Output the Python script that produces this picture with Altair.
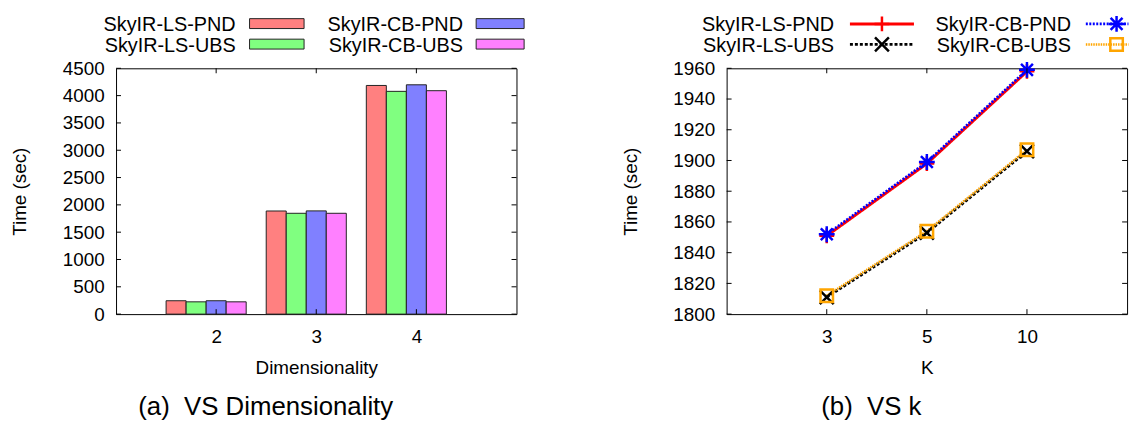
import altair as alt
import pandas as pd

FONT = "Liberation Sans"

# ---------------- data ----------------
series = ["SkyIR-LS-PND", "SkyIR-LS-UBS", "SkyIR-CB-PND", "SkyIR-CB-UBS"]

dims = [2, 3, 4]
ls_pnd_dim = [245, 1888, 4186]
ls_ubs_dim = [225, 1846, 4078]
cb_pnd_dim = [245, 1890, 4198]
cb_ubs_dim = [225, 1846, 4090]

ks = ["3", "5", "10"]
ls_pnd_k = [1851, 1898, 1958]
ls_ubs_k = [1811, 1853, 1906]
cb_pnd_k = [1852, 1899, 1959]
cb_ubs_k = [1812, 1854, 1907]

dim_ticks = list(range(0, 4501, 500))
k_ticks = list(range(1800, 1961, 20))

bar_colors = ["#ff8080", "#80ff80", "#8080ff", "#ff80ff"]
line_colors = ["#ff0000", "#000000", "#0000ff", "#ffa500"]

# ---------------- tables ----------------
dim_vals = [ls_pnd_dim, ls_ubs_dim, cb_pnd_dim, cb_ubs_dim]
bar_df = pd.DataFrame(
    [{"dim": d, "series": s, "idx": i, "time": v[j]}
     for i, (s, v) in enumerate(zip(series, dim_vals))
     for j, d in enumerate(dims)]
)
k_vals = [ls_pnd_k, ls_ubs_k, cb_pnd_k, cb_ubs_k]
line_df = pd.DataFrame(
    [{"k": k, "series": s, "time": v[j]}
     for s, v in zip(series, k_vals)
     for j, k in enumerate(ks)]
)
leg_df = pd.DataFrame(
    [{"series": s, "col": i // 2, "row": i % 2} for i, s in enumerate(series)]
)
ytick_l = pd.DataFrame({"v": dim_ticks})
xtick_l = pd.DataFrame({"d": dims})
ytick_r = pd.DataFrame({"v": k_ticks})
xtick_r = pd.DataFrame({"k": ks})

W, H = 404, 248
TL = 5  # inner tick length


# ---------------- marker paths ----------------
def plus(cx, cy, r):
    return f"M{cx-r},{cy}L{cx+r},{cy}M{cx},{cy-r}L{cx},{cy+r}"


def xmark(cx, cy, r):
    return f"M{cx-r},{cy-r}L{cx+r},{cy+r}M{cx-r},{cy+r}L{cx+r},{cy-r}"


def star(cx, cy, r):
    d = r * 0.75
    return plus(cx, cy, r) + f"M{cx-d},{cy-d}L{cx+d},{cy+d}M{cx-d},{cy+d}L{cx+d},{cy-d}"


def square(cx, cy, r):
    return f"M{cx-r},{cy-r}L{cx+r},{cy-r}L{cx+r},{cy+r}L{cx-r},{cy+r}Z"


def rect(x0, x1, y0, y1):
    return f"M{x0},{y0}L{x1},{y0}L{x1},{y1}L{x0},{y1}Z"


bar_color_scale = alt.Scale(domain=series, range=bar_colors)
line_color_scale = alt.Scale(domain=series, range=line_colors)
dash_scale = alt.Scale(domain=series, range=[[1, 0], [3, 2], [2, 1.5], [1.5, 1]])
width_scale = alt.Scale(domain=series, range=[3, 2.5, 2.5, 1.5])

# ---------------- left panel ----------------
xs_l = alt.Scale(domain=[1, 5], nice=False, zero=False)
ys_l = alt.Scale(domain=[0, 4500], nice=False)
xax_l = alt.Axis(values=dims, format="d", title="Dimensionality",
                 labelPadding=14, titlePadding=12, labelOverlap=False)
yax_l = alt.Axis(values=dim_ticks, format="d", title="Time (sec)",
                 labelPadding=12, titlePadding=33, labelOverlap=False)

bars = alt.Chart(bar_df).transform_calculate(
    x0="datum.dim - 0.5 + 0.2 * datum.idx",
    x1="datum.dim - 0.3 + 0.2 * datum.idx",
).mark_bar(stroke="#222222", strokeWidth=1, opacity=1).encode(
    x=alt.X("x0:Q", scale=xs_l, axis=xax_l),
    x2="x1:Q",
    y=alt.Y("time:Q", scale=ys_l, axis=yax_l),
    y2=alt.datum(0),
    color=alt.Color("series:N", scale=bar_color_scale, legend=None),
)

tl_left = alt.Chart(ytick_l).mark_rule(color="black").encode(
    y=alt.Y("v:Q", scale=ys_l, axis=yax_l), x=alt.value(0), x2=alt.value(TL))
tl_right = alt.Chart(ytick_l).mark_rule(color="black").encode(
    y=alt.Y("v:Q", scale=ys_l, axis=yax_l), x=alt.value(W - TL), x2=alt.value(W))
tl_top = alt.Chart(xtick_l).mark_rule(color="black").encode(
    x=alt.X("d:Q", scale=xs_l, axis=xax_l), y=alt.value(0), y2=alt.value(TL))
tl_bot = alt.Chart(xtick_l).mark_rule(color="black").encode(
    x=alt.X("d:Q", scale=xs_l, axis=xax_l), y=alt.value(H - TL), y2=alt.value(H))

left_main = alt.layer(bars, tl_left, tl_right, tl_top, tl_bot)

leg_x_l = alt.X("col:O", scale=alt.Scale(type="point", domain=[0, 1], range=[120.7, 350], padding=0), axis=None)
leg_y = alt.Y("row:O", scale=alt.Scale(type="point", domain=[0, 1], range=[-43.6, -22.9], padding=0), axis=None)

leg_text_l = alt.Chart(leg_df).mark_text(
    align="right", baseline="middle", fontSize=20, font=FONT, color="black"
).encode(x=leg_x_l, y=leg_y, text="series:N")

sw0 = rect(14, 69, -6.5, 3.5)
sw1 = rect(13.3, 61.7, -6.5, 3.5)
leg_sw_l = alt.Chart(leg_df).mark_point(
    filled=True, size=4, opacity=1, stroke="#222222", strokeWidth=1
).encode(
    x=leg_x_l, y=leg_y,
    color=alt.Color("series:N", scale=bar_color_scale, legend=None),
    shape=alt.Shape("series:N", scale=alt.Scale(domain=series, range=[sw0, sw0, sw1, sw1]), legend=None),
)

left = alt.layer(left_main, leg_text_l, leg_sw_l).resolve_scale(
    x="independent", y="independent", shape="independent"
).properties(
    width=W, height=H,
    title=alt.TitleParams(
        text="(a)\u00a0 VS Dimensionality", orient="bottom", anchor="middle",
        frame="group", fontSize=26, font=FONT, fontWeight="normal",
        color="black", dx=-51, offset=17,
    ),
)

# ---------------- right panel ----------------
xs_r = alt.Scale(type="point", domain=ks, padding=1)
ys_r = alt.Scale(domain=[1800, 1960], nice=False, zero=False)
xax_r = alt.Axis(title="K", labelAngle=0, labelPadding=14, titlePadding=12, labelOverlap=False)
yax_r = alt.Axis(values=k_ticks, format="d", title="Time (sec)",
                 labelPadding=12, titlePadding=33, labelOverlap=False)

lines = alt.Chart(line_df).mark_line().encode(
    x=alt.X("k:O", scale=xs_r, sort=ks, axis=xax_r),
    y=alt.Y("time:Q", scale=ys_r, axis=yax_r),
    color=alt.Color("series:N", scale=line_color_scale, legend=None),
    strokeDash=alt.StrokeDash("series:N", scale=dash_scale, legend=None),
    size=alt.Size("series:N", scale=width_scale, legend=None),
    order=alt.Order("k_order:Q"),
).transform_calculate(k_order="indexof(['3','5','10'], datum.k)")

pts = alt.Chart(line_df).mark_point(filled=False, size=4, opacity=1, strokeWidth=2.5).encode(
    x=alt.X("k:O", scale=xs_r, sort=ks, axis=xax_r),
    y=alt.Y("time:Q", scale=ys_r, axis=yax_r),
    color=alt.Color("series:N", scale=line_color_scale, legend=None),
    shape=alt.Shape("series:N", scale=alt.Scale(
        domain=series,
        range=[plus(0, 0, 7.5), xmark(0, 0, 7), star(0, 0, 8), square(0, 0, 6.3)]),
        legend=None),
)

tr_left = alt.Chart(ytick_r).mark_rule(color="black").encode(
    y=alt.Y("v:Q", scale=ys_r, axis=yax_r), x=alt.value(0), x2=alt.value(TL))
tr_right = alt.Chart(ytick_r).mark_rule(color="black").encode(
    y=alt.Y("v:Q", scale=ys_r, axis=yax_r), x=alt.value(W - TL), x2=alt.value(W))
tr_top = alt.Chart(xtick_r).mark_rule(color="black").encode(
    x=alt.X("k:O", scale=xs_r, sort=ks, axis=xax_r), y=alt.value(0), y2=alt.value(TL))
tr_bot = alt.Chart(xtick_r).mark_rule(color="black").encode(
    x=alt.X("k:O", scale=xs_r, sort=ks, axis=xax_r), y=alt.value(H - TL), y2=alt.value(H))

right_main = alt.layer(lines, pts, tr_left, tr_right, tr_top, tr_bot)

leg_x_r = alt.X("col:O", scale=alt.Scale(type="point", domain=[0, 1], range=[108.4, 347.4], padding=0), axis=None)

leg_text_r = alt.Chart(leg_df).mark_text(
    align="right", baseline="middle", fontSize=20, font=FONT, color="black"
).encode(x=leg_x_r, y=leg_y, text="series:N")

ly = -1.2
ln0 = f"M16,{ly}L80.6,{ly}"
ln1 = f"M15,{ly}L58,{ly}"
leg_line_r = alt.Chart(leg_df).mark_point(filled=False, size=4, opacity=1).encode(
    x=leg_x_r, y=leg_y,
    color=alt.Color("series:N", scale=line_color_scale, legend=None),
    strokeDash=alt.StrokeDash("series:N", scale=dash_scale, legend=None),
    strokeWidth=alt.StrokeWidth("series:N", scale=width_scale, legend=None),
    shape=alt.Shape("series:N", scale=alt.Scale(domain=series, range=[ln0, ln0, ln1, ln1]), legend=None),
)
leg_mk_r = alt.Chart(leg_df).mark_point(filled=False, size=4, opacity=1, strokeWidth=2.5).encode(
    x=leg_x_r, y=leg_y,
    color=alt.Color("series:N", scale=line_color_scale, legend=None),
    shape=alt.Shape("series:N", scale=alt.Scale(
        domain=series,
        range=[plus(48.3, ly, 7.5), xmark(48.3, ly, 7), star(46, ly, 8), square(46, ly, 6.3)]),
        legend=None),
)

right = alt.layer(right_main, leg_text_r, leg_line_r, leg_mk_r).resolve_scale(
    x="independent", y="independent", shape="independent"
).properties(
    width=W, height=H,
    title=alt.TitleParams(
        text="(b)\u00a0 VS k", orient="bottom", anchor="middle",
        frame="group", fontSize=26, font=FONT, fontWeight="normal",
        color="black", dx=-56, offset=17,
    ),
)

chart = alt.hconcat(left, right, spacing=94).resolve_scale(
    color="independent", shape="independent", strokeDash="independent",
    size="independent", strokeWidth="independent",
).properties(
    padding={"left": 2, "top": 0, "right": 0, "bottom": 0}
).configure(
    font=FONT, background="white"
).configure_view(
    stroke="black", strokeWidth=1
).configure_axis(
    ticks=False, domain=False, grid=False, labelOverlap=False,
    labelFont=FONT, labelFontSize=19, labelColor="black",
    titleFont=FONT, titleFontSize=19, titleFontWeight="normal", titleColor="black",
)

chart.save("out.html", embed_options={"renderer": "svg", "actions": False})
